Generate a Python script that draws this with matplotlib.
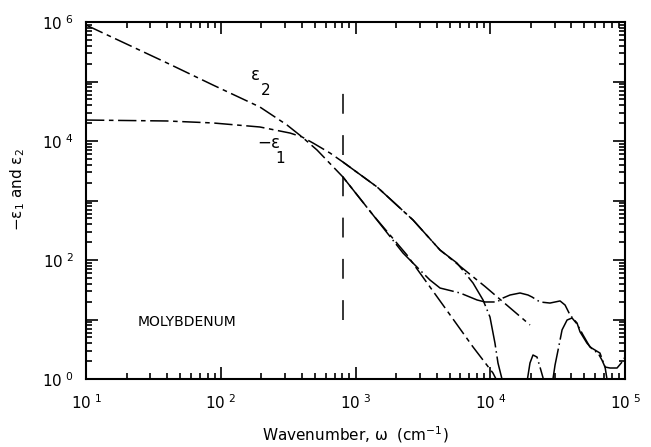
import numpy as np
import matplotlib
matplotlib.use("Agg")
from matplotlib import pyplot as plt
from matplotlib.ticker import LogLocator, FuncFormatter, NullFormatter

nan = np.nan

# Drude fit curves
drude_w_e1 = [10, 39.9, 87.5, 195, 327, 401, 484, 647, 807, 1445, 2673, 4240, 9146, 19720]
drude_e1 = [2.25e4, 2.17e4, 2.01e4, 1.72e4, 1.36e4, 1.17e4, 9250, 6280, 4430, 1690, 470, 147, 35.9, 8.1]

drude_w_e2 = [10, 22.3, 39.9, 87.5, 195, 310, 401, 518, 807, 1349, 2412, 4460, 7452, 10475, 11600]
drude_e2 = [8.9e5, 3.8e5, 2.05e5, 8.73e4, 3.73e4, 1.86e4, 1.17e4, 7060, 2480, 571, 121, 17.5, 3.45, 1.26, 0.8]

# measured data
exp_w_e2 = [807, 1349, 2253, 2860, 3574, 4240, 5968, 7980, 9146, 11220, 12440, 14020, 16640,
            19060, 20410, 23390, 27750, 32980, 35910, 39110, 44080, 46380, 52220, 57940,
            63100, 67450, 71100, 77400, 87300, 95100, 100000]
exp_e2 = [2480, 571, 131, 76, 46, 33.8, 27.9, 21.3, 19.7, 19.7, 23.0, 25.8, 27.9,
          25.8, 23.9, 19.7, 18.9, 20.5, 17.5, 11.9, 8.7, 6.2, 4.0, 3.07,
          2.73, 2.08, 1.59, 1.53, 1.53, 1.93, 2.34]

exp_w_e1 = [807, 1445, 2673, 4240, 5663, 7452, 8838, 9954, 10840, 11410, 12220, 12500, nan,
            18750, 19720, 20760, 22230, 23390, 24640, 24900, nan,
            29000, 30260, 31870, 34120, 37160, 40460, 44080, 48810, 54950, 65190, 71100, 73500, 74500]
exp_e1 = [4430, 1690, 470, 147, 89, 41, 21.3, 11.0, 4.0, 1.86, 1.0, 0.8, nan,
          0.9, 1.86, 2.53, 2.34, 1.59, 1.05, 0.9, nan,
          0.9, 1.72, 3.07, 6.7, 9.8, 10.6, 8.4, 5.5, 3.45, 2.73, 1.59, 1.0, 0.8]

# vertical marker
vline_w = 807
vline_range = [9.8, 7.8e4]

plt.rcParams['font.family'] = ['DejaVu Sans']
plt.rcParams['mathtext.fontset'] = 'dejavusans'
plt.rcParams['mathtext.default'] = 'regular'

fig = plt.figure(figsize=(6.51, 4.47), dpi=100)
ax = fig.add_axes([86/651, 1-379/447, (625-86)/651, (379-22)/447])

drude_style = dict(color='black', lw=1.1, dashes=(12, 3, 3, 3))
exp_style = dict(color='black', lw=1.1, dashes=(22, 2.5, 1, 2.5))

ax.plot(drude_w_e2, drude_e2, **drude_style)
ax.plot(drude_w_e1, drude_e1, **drude_style)
ax.plot(exp_w_e2, exp_e2, **exp_style)
ax.plot(exp_w_e1, exp_e1, **exp_style)
ax.plot([vline_w, vline_w], vline_range, color='black', lw=1.1, dashes=(13, 14))

ax.set_xscale('log')
ax.set_yscale('log')
ax.set_xlim(10, 1e5)
ax.set_ylim(1, 1e6)

ax.xaxis.set_major_locator(LogLocator(base=10, numticks=10))
ax.yaxis.set_major_locator(LogLocator(base=10, numticks=10))
ax.xaxis.set_minor_locator(LogLocator(base=10, subs=np.arange(2, 10), numticks=50))
ax.yaxis.set_minor_locator(LogLocator(base=10, subs=np.arange(2, 10), numticks=50))
ax.xaxis.set_minor_formatter(NullFormatter())
ax.yaxis.set_minor_formatter(NullFormatter())

def xfmt(v, pos):
    e = int(round(np.log10(v)))
    return r'$10^{\ %d}$' % e

def yfmt(v, pos):
    e = int(round(np.log10(v)))
    if e % 2:
        return ''
    return r'$10^{\ %d}$' % e

ax.xaxis.set_major_formatter(FuncFormatter(xfmt))
ax.yaxis.set_major_formatter(FuncFormatter(yfmt))

ax.tick_params(which='both', direction='in', top=True, right=True, width=1.2, labelsize=11)
ax.tick_params(which='major', length=8.5)
ax.tick_params(which='minor', length=4.5)
ax.tick_params(axis='x', pad=10)
ax.tick_params(axis='y', pad=9)
for s in ax.spines.values():
    s.set_linewidth(1.5)

ax.set_xlabel(r'Wavenumber, $\omega$  (cm$^{-1}$)', fontsize=11, labelpad=9)
ax.set_ylabel(r'$-\epsilon_1$ and $\epsilon_2$', fontsize=11, labelpad=14)
ax.yaxis.set_label_coords(-0.11, 0.53)

ax.text(165, 1.05e5, r'$\epsilon$', fontsize=12)
ax.text(200, 6.0e4, '2', fontsize=11)
ax.text(185, 7.7e3, r'$-\epsilon$', fontsize=12)
ax.text(252, 4.3e3, '1', fontsize=11)

ax.text(24.3, 9.1, 'MOLYBDENUM', fontsize=10, va='center', ha='left')

fig.savefig('out.png', dpi=100)
plt.close('all')
